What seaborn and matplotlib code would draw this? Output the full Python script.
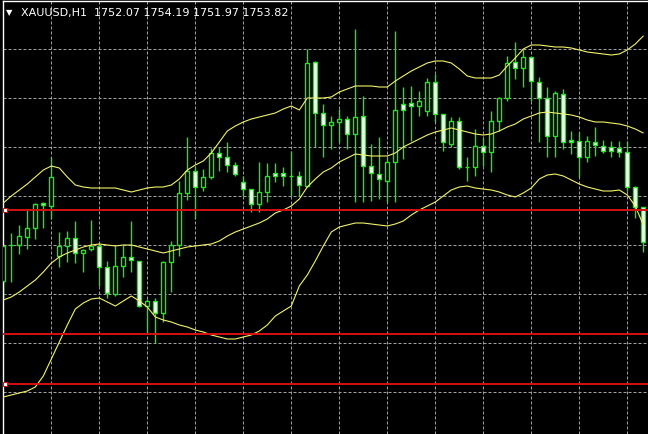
import numpy as np
import pandas as pd
import matplotlib
matplotlib.use("Agg")
import matplotlib.pyplot as plt
import matplotlib.transforms as mtransforms
import seaborn as sns

# XAUUSD H1 candles, levels (screen units, higher = up)
bar_open = [153, 189, 189, 197, 206, 231, 228, 178, 188, 196, 181, 185, 188, 167, 140, 168, 177, 173, 128, 133,
            121, 172, 189, 241, 263, 247, 257, 281, 277, 269, 252, 245, 230, 242, 261, 261, 258, 258, 248, 372,
            321, 309, 312, 315, 300, 318, 268, 260, 253, 272, 330, 331, 328, 323, 352, 320, 290, 313, 267, 267,
            288, 282, 313, 336, 372, 366, 377, 352, 336, 298, 340, 294, 293, 277, 292, 288, 287, 286, 282, 247,
            227]
bar_high = [190, 201, 209, 224, 231, 232, 277, 202, 203, 213, 185, 214, 191, 173, 188, 189, 213, 173, 135, 136,
            173, 193, 253, 297, 268, 265, 286, 287, 292, 272, 258, 245, 272, 271, 271, 267, 283, 263, 385, 373,
            330, 318, 325, 318, 405, 338, 290, 297, 277, 403, 347, 348, 343, 356, 360, 320, 317, 317, 277, 305,
            296, 323, 337, 378, 392, 385, 377, 357, 347, 343, 345, 303, 302, 298, 307, 294, 293, 293, 293, 248,
            227]
bar_low = [135, 152, 180, 185, 195, 206, 215, 167, 172, 171, 162, 183, 148, 136, 138, 157, 162, 127, 100, 91,
           112, 142, 178, 234, 215, 243, 255, 263, 262, 258, 238, 222, 222, 232, 252, 248, 238, 238, 247, 287,
           277, 285, 292, 285, 232, 232, 233, 235, 232, 232, 275, 293, 318, 318, 312, 283, 287, 265, 253, 258,
           268, 262, 303, 333, 355, 347, 333, 292, 277, 277, 285, 280, 257, 272, 278, 281, 277, 277, 243, 216,
           182]
bar_close = [188, 189, 198, 206, 230, 229, 257, 188, 196, 181, 184, 188, 167, 141, 168, 177, 174, 128, 133, 121,
             172, 189, 241, 263, 247, 257, 281, 277, 269, 260, 245, 230, 242, 258, 258, 258, 258, 249, 371, 321,
             309, 312, 315, 300, 317, 268, 261, 255, 272, 324, 324, 328, 333, 352, 320, 292, 313, 267, 267, 288,
             282, 313, 336, 371, 366, 377, 353, 336, 298, 341, 292, 292, 277, 293, 289, 283, 283, 282, 247, 227,
             192]

# Bollinger bands
bb_upper = [231, 238, 244, 250, 257, 264, 268, 266, 257, 249, 247, 246, 246, 246, 246, 244, 242, 244, 246, 247,
            247, 249, 255, 264, 269, 273, 281, 292, 303, 308, 312, 315, 317, 319, 321, 325, 328, 324, 336, 336,
            336, 337, 342, 345, 348, 348, 348, 347, 347, 353, 358, 363, 367, 371, 373, 373, 371, 365, 358, 356,
            356, 356, 359, 368, 376, 385, 389, 389, 388, 387, 387, 386, 384, 382, 381, 380, 379, 380, 384, 390,
            398]
bb_middle = [134, 137, 142, 148, 154, 162, 171, 177, 181, 184, 187, 189, 190, 189, 188, 189, 189, 187, 185, 183,
             181, 183, 185, 187, 188, 189, 190, 193, 198, 202, 205, 208, 211, 215, 221, 224, 228, 235, 247, 255,
             262, 266, 272, 276, 280, 279, 278, 278, 278, 281, 287, 291, 295, 299, 302, 304, 306, 304, 302, 300,
             299, 300, 303, 307, 310, 315, 318, 321, 322, 321, 320, 319, 317, 314, 312, 312, 311, 310, 308, 305,
             301]
bb_lower = [37, 39, 41, 43, 47, 58, 75, 92, 109, 125, 131, 135, 136, 132, 128, 133, 138, 133, 127, 117,
            114, 112, 109, 107, 104, 102, 99, 97, 95, 95, 97, 99, 103, 109, 118, 123, 128, 148, 159, 173,
            188, 202, 207, 209, 211, 211, 210, 209, 208, 210, 213, 219, 224, 228, 232, 238, 244, 247, 248, 246,
            245, 244, 242, 239, 237, 241, 246, 255, 259, 260, 258, 254, 250, 247, 245, 243, 243, 244, 239, 228,
            209]

# horizontal line objects; two of them are shown selected
hline_levels = [224, 100, 50]
selected_levels = [224, 50]

header_symbol = "XAUUSD,H1"
header_ohlc = ["1752.07", "1754.19", "1751.97", "1753.82"]

grid_x = list(range(6, 81, 6))
grid_y = list(range(42, 400, 49))

GREEN = "#1fe61f"
YELLOW = "#f2f26a"
RED = "#d81010"
GRID = "#a0a0a0"

sns.set_style("dark", {"axes.facecolor": "black", "figure.facecolor": "black"})

fig = plt.figure(figsize=(6.48, 4.35), dpi=100)
ax = fig.add_axes([3 / 648, 0, 645 / 648, 433 / 435])
ax.set_facecolor("black")

n = len(bar_open)
idx = np.arange(n)
o = np.array(bar_open)
c = np.array(bar_close)

# grid
ax.set_xticks(grid_x)
ax.set_yticks(grid_y)
ax.grid(True, color=GRID, linewidth=0.72, linestyle=(0, (3, 2)))
ax.set_axisbelow(True)
ax.tick_params(length=0, labelbottom=False, labelleft=False)

# candles: wicks, then bodies (bull = black, bear = white)
ax.vlines(idx, bar_low, bar_high, colors=GREEN, linewidth=1.0, zorder=2)
fills = np.where(c >= o, "black", "white")
ax.bar(idx, np.abs(c - o), bottom=np.minimum(o, c), width=0.5,
       color=fills, edgecolor=GREEN, linewidth=1.0, zorder=3)

# Bollinger bands
bands = pd.DataFrame({
    "bar": np.tile(idx, 3),
    "level": bb_upper + bb_middle + bb_lower,
    "band": ["upper"] * n + ["middle"] * n + ["lower"] * n,
})
sns.lineplot(data=bands, x="bar", y="level", hue="band",
             palette={"upper": YELLOW, "middle": YELLOW, "lower": YELLOW},
             linewidth=0.8, legend=False, ax=ax, zorder=4)

# horizontal lines
for lvl in hline_levels:
    ax.axhline(lvl, color=RED, linewidth=1.4, zorder=5)
trans = mtransforms.blended_transform_factory(ax.transAxes, ax.transData)
ax.plot([0.0036] * len(selected_levels), selected_levels, "s", transform=trans,
        markersize=3.5, markerfacecolor="white", markeredgecolor=RED,
        markeredgewidth=0.8, zorder=6, clip_on=False)

ax.set_xlim(-0.04, 80.59)
ax.set_ylim(0, 433)
ax.set_xlabel("")
ax.set_ylabel("")

for side in ["right", "bottom"]:
    ax.spines[side].set_visible(False)
for side in ["left", "top"]:
    ax.spines[side].set_visible(True)
    ax.spines[side].set_color("white")
    ax.spines[side].set_linewidth(1.0)

# chart header
fig.text(6 / 648, 1 - 13 / 435, "\u25bc", color="white", fontsize=6, va="center", ha="left")
fig.text(21 / 648, 1 - 13 / 435, header_symbol + "  " + " ".join(header_ohlc),
         color="white", fontsize=8, va="center", ha="left")

fig.savefig("out.png", dpi=100, facecolor="black")
